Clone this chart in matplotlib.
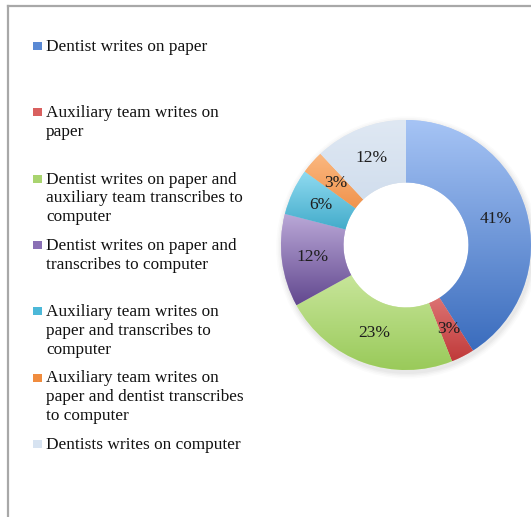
import matplotlib.pyplot as plt
import numpy as np
from matplotlib.colors import LinearSegmentedColormap
from matplotlib.lines import Line2D
from matplotlib.patches import Rectangle

plt.rcParams["font.family"] = ["Liberation Serif", "DejaVu Serif"]

categories = [
    "Dentist writes on paper",
    "Auxiliary team writes on\npaper",
    "Dentist writes on paper and\nauxiliary team transcribes to\ncomputer",
    "Dentist writes on paper and\ntranscribes to computer",
    "Auxiliary team writes on\npaper and transcribes to\ncomputer",
    "Auxiliary team writes on\npaper and dentist transcribes\nto computer",
    "Dentists writes on computer",
]
shares = [41, 3, 23, 12, 6, 3, 12]

# (light top, dark bottom) per slice
gradients = [
    ("#a6c4f5", "#3a6cbd"),
    ("#f4a3a2", "#c03a3a"),
    ("#d6eeae", "#98c958"),
    ("#bba9d8", "#62488f"),
    ("#90dbf1", "#2f9fc0"),
    ("#fbb880", "#e97b2b"),
    ("#dfe8f3", "#c9d8ea"),
]
swatches = ["#5a89d4", "#d9605f", "#a9d46f", "#8a70b5", "#4cb8d8", "#f08c3e", "#d7e3f1"]

W, H = 531, 517
fig = plt.figure(figsize=(W / 100, H / 100), dpi=100)

# outer frame: top and left edges only
fig.add_artist(Line2D([8 / W, 1], [1 - 6 / H, 1 - 6 / H], color="#a8a8a8", lw=1.6,
                      transform=fig.transFigure))
fig.add_artist(Line2D([8 / W, 8 / W], [0, 1 - 6 / H], color="#a8a8a8", lw=1.6,
                      transform=fig.transFigure))

cx, cy, R = 406, 245, 125
lim = 1.08
half = R * lim
ax = fig.add_axes([(cx - half) / W, 1 - (cy + half) / H, 2 * half / W, 2 * half / H])
ax.set_aspect("equal")
ax.axis("off")

# soft drop shadow under the ring
for k, a in enumerate([0.05, 0.05, 0.04, 0.03]):
    ring = plt.Circle((0.01, -0.02), 1.0 + 0.012 * (k + 1), color="#808080",
                      alpha=a, lw=0, zorder=0)
    ax.add_patch(ring)
ax.add_patch(plt.Circle((0.0, 0.0), 0.5, color="white", lw=0, zorder=0.5))

wedges, texts, autotexts = ax.pie(
    shares, startangle=90, counterclock=False, radius=1.0,
    autopct="%.0f%%", pctdistance=0.75,
    wedgeprops=dict(width=0.5, linewidth=0),
    textprops=dict(fontsize=12.5, color="#1e1e1e"),
)

grad = np.linspace(1, 0, 256).reshape(-1, 1)
for w, (top, bottom) in zip(wedges, gradients):
    verts = w.get_path().vertices
    x0, x1 = verts[:, 0].min(), verts[:, 0].max()
    y0, y1 = verts[:, 1].min(), verts[:, 1].max()
    cmap = LinearSegmentedColormap.from_list("g", [bottom, top])
    w.set_facecolor(top)
    im = ax.imshow(grad, cmap=cmap, extent=(x0, x1, y0, y1), aspect="auto",
                   origin="upper", zorder=1.5, interpolation="bilinear")
    im.set_clip_path(w)
    w.set_zorder(1)
for t in autotexts:
    t.set_zorder(3)
ax.set_xlim(-lim, lim)
ax.set_ylim(-lim, lim)

# legend column on the left
y_first, step = 47, 66.3
for i, (label, sw) in enumerate(zip(categories, swatches)):
    y = y_first + i * step
    fig.add_artist(Rectangle((33 / W, 1 - (y + 3) / H), 9 / W, 8 / H,
                             transform=fig.transFigure,
                             facecolor=sw, edgecolor="none"))
    fig.text(46 / W, 1 - (y - 8) / H, label, fontsize=12.4, va="top", ha="left",
             color="#111111", linespacing=1.24)

fig.savefig("out.png", dpi=100)
